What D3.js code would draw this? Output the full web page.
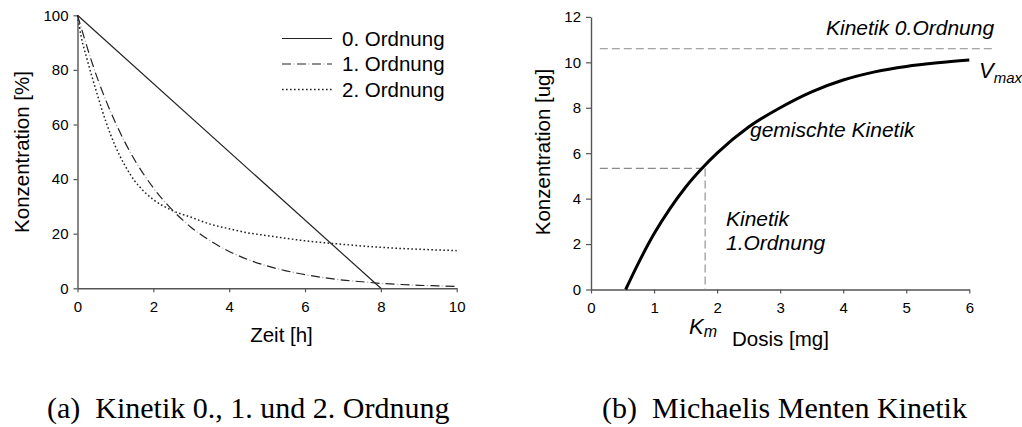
<!DOCTYPE html>
<html><head><meta charset="utf-8">
<script src="https://cdn.jsdelivr.net/npm/d3@7"></script>
<style>
html,body{margin:0;padding:0;background:#fff;}
svg{display:block;}
text{font-family:"Liberation Sans",Arial,sans-serif;fill:#000;}
.cap{font-family:"Liberation Serif","Times New Roman",serif;}
</style></head>
<body>
<svg id="c" width="1022" height="427"></svg>
<script>
// ---- Data: chart (a) ----
const timeTicks = [0, 2, 4, 6, 8, 10];
const concTicksA = [0, 20, 40, 60, 80, 100];
const order0T = [0, 8];
const order0C = [100, 0];
const order1T = [0,0.5,1,1.5,2,2.5,3,3.5,4,4.5,5,5.5,6,6.5,7,7.5,8,8.5,9,9.5,10];
const order1C = [100,77.9,60.7,47.2,36.8,28.7,22.3,17.4,13.5,10.5,8.2,6.4,5.0,3.9,3.0,2.4,1.8,1.4,1.1,0.9,0.7];
const order2T = [0,0.1,0.25,0.5,0.75,1,1.25,1.5,1.75,2,2.5,3,3.5,4,4.5,5,6,7,8,9,10];
const order2C = [100,92,84,72,61,52,45,39.5,35.5,32.5,28.5,26,23.5,21.8,20.3,19.3,17.4,16.1,15,14.3,13.8];
const legendLabels = ["0. Ordnung", "1. Ordnung", "2. Ordnung"];

// ---- Data: chart (b) ----
const doseTicks = [0,1,2,3,4,5,6];
const concTicksB = [0,2,4,6,8,10,12];
const dose = [0.55,0.75,1,1.25,1.5,1.75,2,2.5,3,3.5,4,4.5,5,5.5,6];
const concB = [0,1.15,2.45,3.55,4.5,5.3,6.0,7.15,8.0,8.7,9.22,9.58,9.82,9.98,10.1];
const vmax = 10.6;
const vmaxLineX = [0.14, 6.36];
const km = 1.81;
const kmConc = 5.33;
const kmLineX0 = 0.14;

const svg = d3.select("#c");

// ===== Chart (a) =====
const xA = d3.scaleLinear().domain([0,10]).range([77.5,456.7]);
const yA = d3.scaleLinear().domain([0,100]).range([288.3,15.3]);
const gA = svg.append("g");

function styleAxis(g){
  g.selectAll("path.domain").attr("stroke","#555").attr("stroke-width",1.4);
  g.selectAll(".tick line").attr("stroke","#555").attr("stroke-width",1.2);
  g.selectAll(".tick text").attr("font-size",15).attr("font-family","Liberation Sans, Arial, sans-serif").attr("fill","#000");
}
const axAx = gA.append("g").attr("transform",`translate(0,${yA(0)})`)
  .call(d3.axisBottom(xA).tickValues(timeTicks).tickSize(4).tickSizeOuter(0).tickPadding(9).tickFormat(d3.format("d")));
styleAxis(axAx);
const axAy = gA.append("g").attr("transform",`translate(${xA(0)},0)`)
  .call(d3.axisLeft(yA).tickValues(concTicksA).tickSize(4).tickSizeOuter(0).tickPadding(5).tickFormat(d3.format("d")));
styleAxis(axAy);

const lineA = (T,C,curve) => d3.line().x((d,i)=>xA(T[i])).y(d=>yA(d)).curve(curve)(C);
gA.append("path").attr("d",lineA(order0T,order0C,d3.curveLinear))
  .attr("fill","none").attr("stroke","#222").attr("stroke-width",1.2);
// 1. Ordnung: long dashes with faint dots between
const d1 = lineA(order1T,order1C,d3.curveMonotoneX);
gA.append("path").attr("d",d1)
  .attr("fill","none").attr("stroke","#222").attr("stroke-width",1.2).attr("stroke-dasharray","9,6");
gA.append("path").attr("d",d1)
  .attr("fill","none").attr("stroke","#b5b5b5").attr("stroke-width",1.2).attr("stroke-dasharray","1.5,13.5").attr("stroke-dashoffset",3.75);
gA.append("path").attr("d",lineA(order2T,order2C,d3.curveMonotoneX))
  .attr("fill","none").attr("stroke","#222").attr("stroke-width",1.5).attr("stroke-dasharray","1.6,2.4");

// legend
const legY = [38.5, 64, 89.5];
legendLabels.forEach((lab,i)=>{
  const mk = () => gA.append("line").attr("x1",282).attr("x2",332).attr("y1",legY[i]).attr("y2",legY[i]);
  if(i===0){ mk().attr("stroke","#222").attr("stroke-width",1.2); }
  if(i===1){
    mk().attr("stroke","#222").attr("stroke-width",1.2).attr("stroke-dasharray","9,6");
    mk().attr("stroke","#b5b5b5").attr("stroke-width",1.2).attr("stroke-dasharray","1.5,13.5").attr("stroke-dashoffset",3.75);
  }
  if(i===2){ mk().attr("stroke","#222").attr("stroke-width",1.5).attr("stroke-dasharray","1.6,2.4"); }
  gA.append("text").attr("x",342).attr("y",legY[i]).attr("dy","0.36em").attr("font-size",20.5).text(lab);
});

gA.append("text").attr("transform","translate(29,152) rotate(-90)").attr("text-anchor","middle")
  .attr("font-size",20.5).text("Konzentration [%]");
gA.append("text").attr("x",281.5).attr("y",342).attr("text-anchor","middle").attr("font-size",20.5).text("Zeit [h]");

// ===== Chart (b) =====
const xB = d3.scaleLinear().domain([0,6]).range([591,969.3]);
const yB = d3.scaleLinear().domain([0,12]).range([289.5,16.9]);
const gB = svg.append("g");

const axBx = gB.append("g").attr("transform",`translate(0,${yB(0)})`)
  .call(d3.axisBottom(xB).tickValues(doseTicks).tickSize(4).tickSizeOuter(0).tickPadding(9).tickFormat(d3.format("d")));
styleAxis(axBx);
const axBy = gB.append("g").attr("transform",`translate(${xB(0)},0)`)
  .call(d3.axisLeft(yB).tickValues(concTicksB).tickSize(5).tickSizeOuter(0).tickPadding(5).tickFormat(d3.format("d")));
styleAxis(axBy);

// dashed guide lines
const guide = "#8a8a8a";
gB.append("line").attr("x1",xB(vmaxLineX[0])).attr("x2",xB(vmaxLineX[1])).attr("y1",yB(vmax)).attr("y2",yB(vmax))
  .attr("stroke",guide).attr("stroke-width",1.1).attr("stroke-dasharray","8,4");
gB.append("line").attr("x1",xB(kmLineX0)).attr("x2",xB(km)).attr("y1",yB(kmConc)).attr("y2",yB(kmConc))
  .attr("stroke",guide).attr("stroke-width",1.1).attr("stroke-dasharray","8,4");
gB.append("line").attr("x1",xB(km)).attr("x2",xB(km)).attr("y1",yB(kmConc)).attr("y2",yB(0))
  .attr("stroke",guide).attr("stroke-width",1.1).attr("stroke-dasharray","8,4");

gB.append("path").attr("d", d3.line().x((d,i)=>xB(dose[i])).y(d=>yB(d)).curve(d3.curveMonotoneX)(concB))
  .attr("fill","none").attr("stroke","#000").attr("stroke-width",3).attr("stroke-linecap","butt");

const it = (x,y,t,fs)=>gB.append("text").attr("x",x).attr("y",y).attr("font-size",fs||21).attr("font-style","italic").text(t);
it(826,35,"Kinetik 0.Ordnung");
it(750,137,"gemischte Kinetik");
it(726,226,"Kinetik");
it(726,250,"1.Ordnung");
const vt = gB.append("text").attr("x",979).attr("y",78).attr("font-size",22).attr("font-style","italic");
vt.append("tspan").text("V");
vt.append("tspan").attr("font-size",15).attr("dy",5).text("max");
const kt = gB.append("text").attr("x",689).attr("y",334).attr("font-size",22).attr("font-style","italic");
kt.append("tspan").text("K");
kt.append("tspan").attr("font-size",16).attr("dy",3).text("m");

gB.append("text").attr("transform","translate(550,152) rotate(-90)").attr("text-anchor","middle")
  .attr("font-size",20.5).text("Konzentration [ug]");
gB.append("text").attr("x",732).attr("y",346).attr("font-size",20.5).text("Dosis [mg]");

// captions
svg.append("text").attr("class","cap").attr("x",47).attr("y",418).attr("font-size",30).text("(a)\u2002Kinetik 0., 1. und 2. Ordnung");
svg.append("text").attr("class","cap").attr("x",602).attr("y",418).attr("font-size",30).text("(b)\u2002Michaelis Menten Kinetik");
</script>
</body></html>
